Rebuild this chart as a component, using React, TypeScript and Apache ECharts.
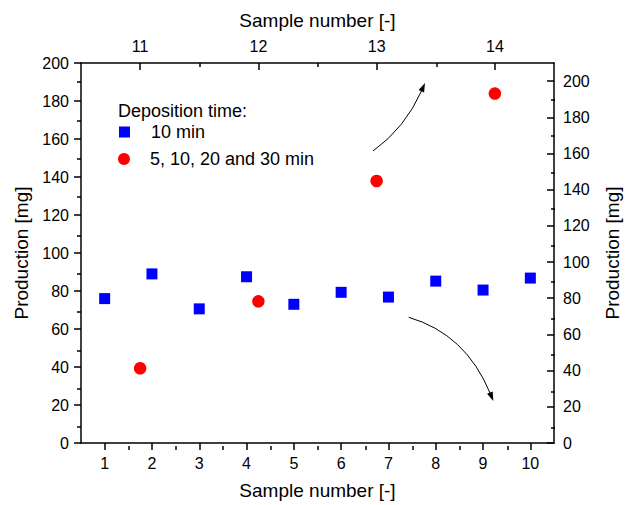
import React, { useEffect, useRef } from 'react';
import * as echarts from 'echarts';

const bottomSamples = [1, 2, 3, 4, 5, 6, 7, 8, 9, 10];
const tenMinValues = [76.0, 89.0, 70.6, 87.5, 73.0, 79.3, 76.8, 85.2, 80.5, 86.8];
const topSamples = [11, 12, 13, 14];
const mixedValues = [41.3, 78.3, 144.8, 193.1];

const bottomTickLabels = [1, 2, 3, 4, 5, 6, 7, 8, 9, 10];
const bottomMinorTicks = [1.5, 2.5, 3.5, 4.5, 5.5, 6.5, 7.5, 8.5, 9.5];
const topTickLabels = [11, 12, 13, 14];
const topMinorTicks = [11.5, 12.5, 13.5];
const yTickLabels = [0, 20, 40, 60, 80, 100, 120, 140, 160, 180, 200];
const yMinorTicks = [10, 30, 50, 70, 90, 110, 130, 150, 170, 190];

const seriesNames = ['10 min', '5, 10, 20 and 30 min'];
const legendTitle = 'Deposition time:';
const xTitle = 'Sample number [-]';
const yTitle = 'Production [mg]';

const FONT = '"Liberation Sans", Arial, sans-serif';
const BLACK = '#000';

function axisBase(extra: any) {
  return {
    type: 'value',
    splitLine: { show: false },
    axisLine: { show: true, onZero: false, lineStyle: { color: BLACK, width: 1.5 } },
    ...extra,
  };
}

export default function App() {
  const ref = useRef<HTMLDivElement>(null);

  useEffect(() => {
    document.body.style.margin = '0';
    const chart = echarts.init(ref.current!, null, { renderer: 'svg' });
    const gridRect = { left: 81, top: 63, width: 474, height: 383 };
    const labelStyle = { color: BLACK, fontSize: 16, fontFamily: FONT };
    const nameStyle = { color: BLACK, fontSize: 19, fontFamily: FONT };

    const option: any = {
      animation: false,
      backgroundColor: '#fff',
      grid: [
        { ...gridRect, containLabel: false },
        { ...gridRect, containLabel: false },
      ],
      xAxis: [
        axisBase({
          gridIndex: 0,
          position: 'bottom',
          min: 0.5,
          max: 10.5,
          axisTick: { show: true, customValues: bottomTickLabels, length: 7, lineStyle: { color: BLACK, width: 1.5 } },
          axisLabel: { customValues: bottomTickLabels, margin: 12, ...labelStyle },
          name: xTitle,
          nameLocation: 'middle',
          nameGap: 38,
          nameTextStyle: nameStyle,
        }),
        axisBase({
          gridIndex: 0,
          position: 'top',
          min: 10.5,
          max: 14.5,
          axisTick: { show: true, inside: true, customValues: topTickLabels, length: 7, lineStyle: { color: BLACK, width: 1.5 } },
          axisLabel: { customValues: topTickLabels, margin: 9, ...labelStyle },
          name: xTitle,
          nameLocation: 'middle',
          nameGap: 33,
          nameTextStyle: nameStyle,
        }),
        axisBase({
          gridIndex: 1,
          position: 'bottom',
          min: 0.5,
          max: 10.5,
          axisLine: { show: false, onZero: false },
          axisTick: { show: true, customValues: bottomMinorTicks, length: 4, lineStyle: { color: BLACK, width: 1.5 } },
          axisLabel: { show: false },
        }),
        axisBase({
          gridIndex: 1,
          position: 'top',
          min: 10.5,
          max: 14.5,
          axisLine: { show: false, onZero: false },
          axisTick: { show: true, inside: true, customValues: topMinorTicks, length: 4, lineStyle: { color: BLACK, width: 1.5 } },
          axisLabel: { show: false },
        }),
      ],
      yAxis: [
        axisBase({
          gridIndex: 0,
          position: 'left',
          min: 0,
          max: 200,
          axisTick: { show: true, customValues: yTickLabels, length: 7, lineStyle: { color: BLACK, width: 1.5 } },
          axisLabel: { customValues: yTickLabels, margin: 12, ...labelStyle },
          name: yTitle,
          nameLocation: 'middle',
          nameGap: 46,
          nameRotate: 90,
          nameTextStyle: nameStyle,
        }),
        axisBase({
          gridIndex: 0,
          position: 'right',
          min: 0,
          max: 210,
          axisTick: { show: true, inside: true, customValues: yTickLabels, length: 7, lineStyle: { color: BLACK, width: 1.5 } },
          axisLabel: { customValues: yTickLabels, margin: 9, ...labelStyle },
          name: yTitle,
          nameLocation: 'middle',
          nameGap: 49,
          nameRotate: 90,
          nameTextStyle: nameStyle,
        }),
        axisBase({
          gridIndex: 1,
          position: 'left',
          min: 0,
          max: 200,
          axisLine: { show: false, onZero: false },
          axisTick: { show: true, customValues: yMinorTicks, length: 4, lineStyle: { color: BLACK, width: 1.5 } },
          axisLabel: { show: false },
        }),
        axisBase({
          gridIndex: 1,
          position: 'right',
          min: 0,
          max: 210,
          axisLine: { show: false, onZero: false },
          axisTick: { show: true, inside: true, customValues: yMinorTicks, length: 4, lineStyle: { color: BLACK, width: 1.5 } },
          axisLabel: { show: false },
        }),
      ],
      legend: [
        {
          data: [seriesNames[0]],
          left: 119,
          top: 122,
          itemWidth: 11,
          itemHeight: 11,
          selectedMode: false,
          padding: 0,
          textStyle: { color: BLACK, fontSize: 18, fontFamily: FONT, lineHeight: 20, padding: [0, 0, 0, 16] },
        },
        {
          data: [seriesNames[1]],
          left: 118,
          top: 149,
          itemWidth: 12,
          itemHeight: 12,
          selectedMode: false,
          padding: 0,
          textStyle: { color: BLACK, fontSize: 18, fontFamily: FONT, lineHeight: 20, padding: [0, 0, 0, 15] },
        },
      ],
      series: [
        {
          name: seriesNames[0],
          type: 'scatter',
          xAxisIndex: 0,
          yAxisIndex: 0,
          symbol: 'rect',
          symbolSize: 11,
          itemStyle: { color: '#0000ff', opacity: 1 },
          data: bottomSamples.map((s, i) => [s, tenMinValues[i]]),
        },
        {
          name: seriesNames[1],
          type: 'scatter',
          xAxisIndex: 1,
          yAxisIndex: 1,
          symbol: 'circle',
          symbolSize: 12.5,
          itemStyle: { color: '#ff0000', opacity: 1 },
          data: topSamples.map((s, i) => [s, mixedValues[i]]),
        },
      ],
      graphic: [
        {
          type: 'text',
          left: 118,
          top: 102,
          style: { text: legendTitle, fill: BLACK, font: `18px ${FONT}` },
        },
        {
          type: 'bezierCurve',
          shape: { x1: 373, y1: 151, x2: 421.5, y2: 91, cpx1: 405, cpy1: 128 },
          style: { stroke: BLACK, lineWidth: 1, fill: 'none' },
        },
        {
          type: 'polygon',
          shape: { points: [[425, 83], [424.1, 92.5], [418.6, 90.0]] },
          style: { fill: BLACK },
        },
        {
          type: 'bezierCurve',
          shape: { x1: 408.7, y1: 317.3, x2: 490, y2: 393, cpx1: 465.7, cpy1: 334 },
          style: { stroke: BLACK, lineWidth: 1, fill: 'none' },
        },
        {
          type: 'polygon',
          shape: { points: [[493.3, 401], [492.7, 391.5], [487.1, 393.8]] },
          style: { fill: BLACK },
        },
      ],
    };

    chart.setOption(option);
    return () => chart.dispose();
  }, []);

  return <div ref={ref} style={{ width: 630, height: 505 }} />;
}
